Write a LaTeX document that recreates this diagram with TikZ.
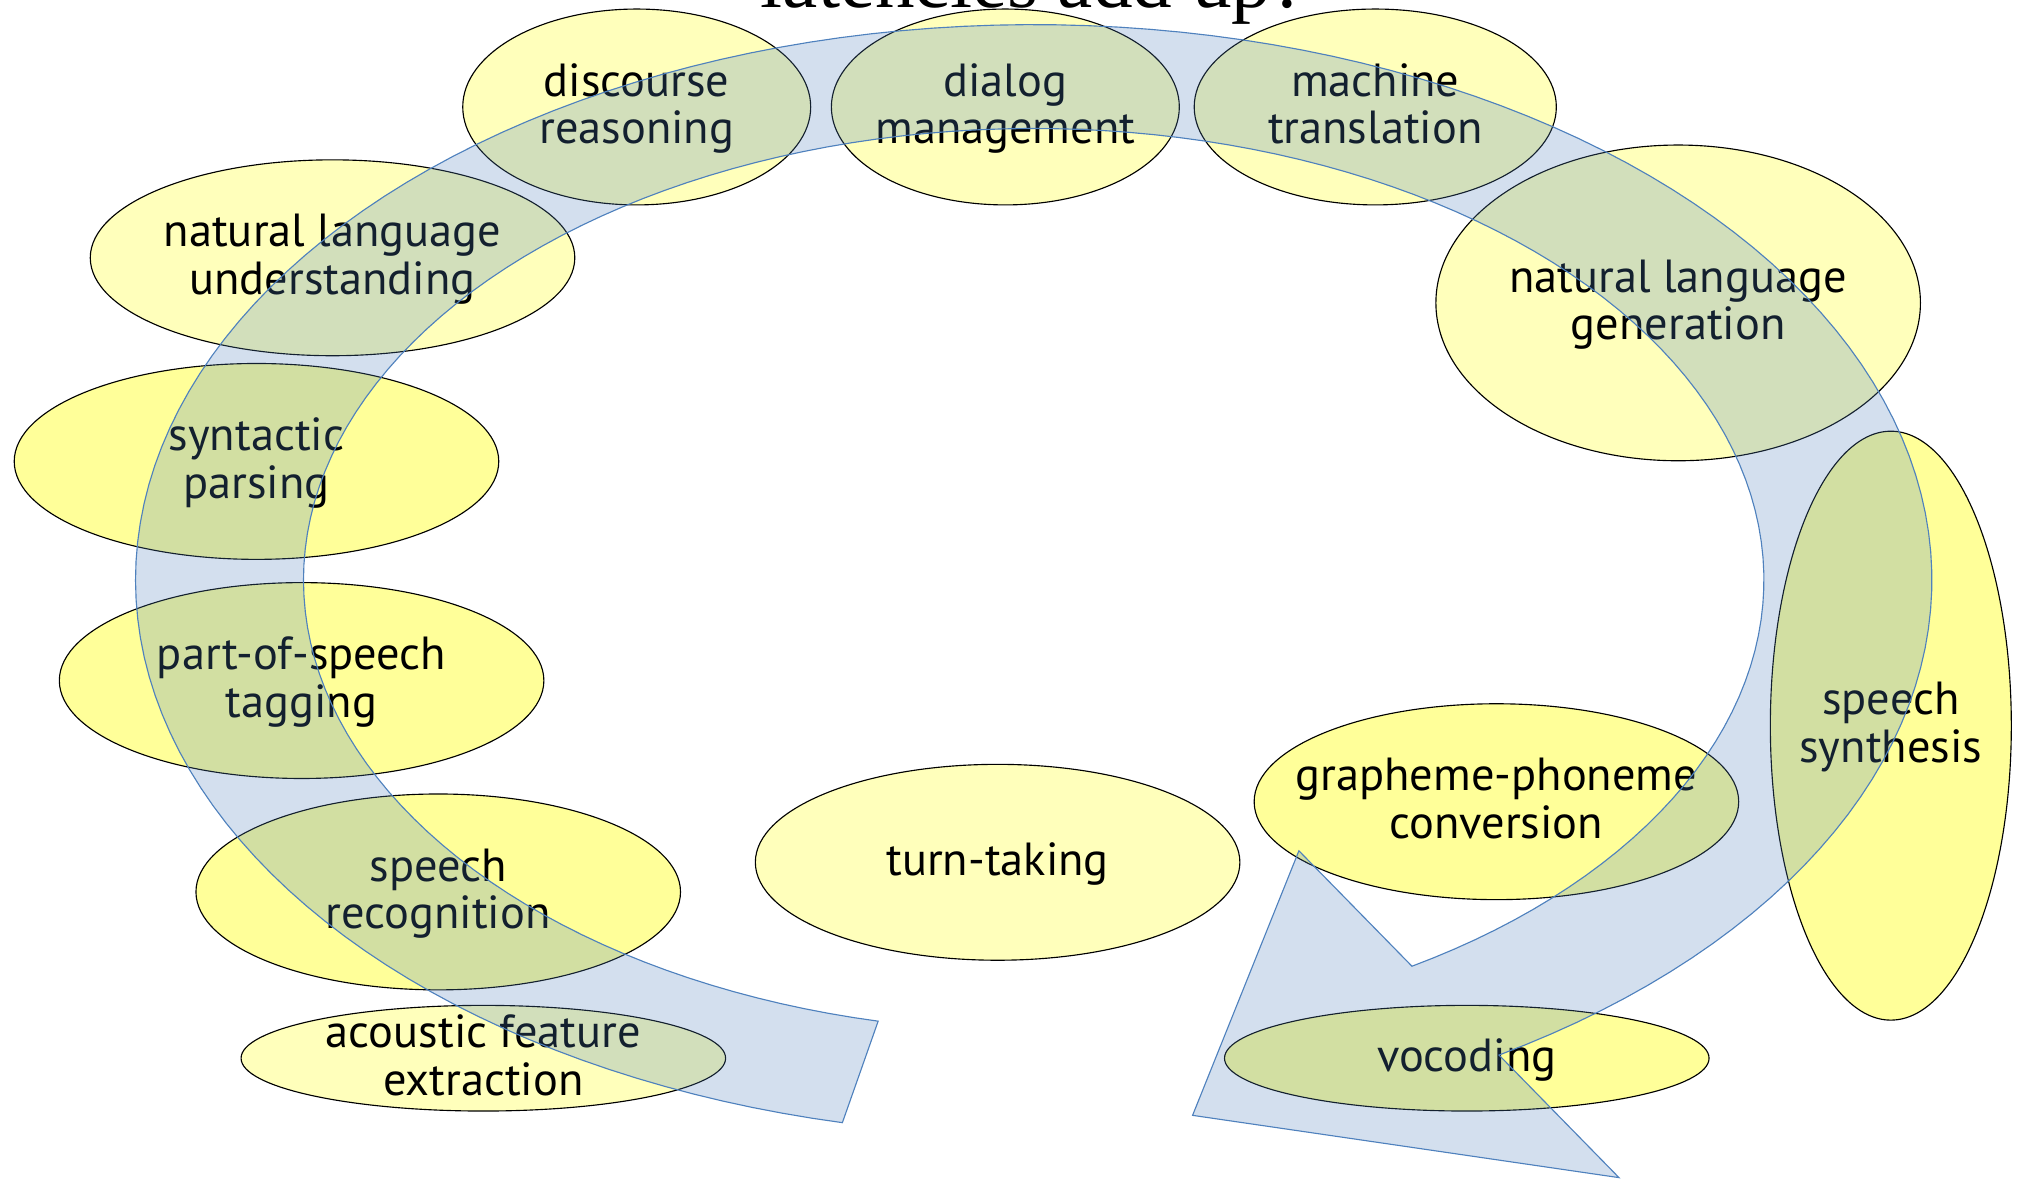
\documentclass[tikz,border=0pt]{standalone}
\usepackage{fontspec}
\setmainfont{PT Sans}
\newfontfamily\headfont{Liberation Serif}
\usetikzlibrary{shapes.geometric}
\definecolor{StageSoft}{HTML}{FFFFBB}
\definecolor{StageBright}{HTML}{FFFF99}
\definecolor{FlowBlue}{HTML}{4F81BD}

\begin{document}
\begin{tikzpicture}[
        x=0.02cm, y=-0.02cm,
        every node/.style={font=\fontsize{20.5}{21}\selectfont},
        stage/.style={ellipse, draw=black, line width=0.5pt, inner sep=0pt, minimum width=7.52cm, minimum height=3.04cm, fill=StageSoft},
        bright/.style={stage, fill=StageBright},
        topstage/.style={stage, minimum width=5.4cm},
        slim/.style={minimum height=1.64cm},
        lbl/.style={align=center, inner sep=0pt, yshift=-0.06cm, execute at begin node=\strut, execute at end node=\strut},
        flow/.style={draw=FlowBlue, line width=0.5pt, fill=FlowBlue, fill opacity=0.25}
    ]
    \useasboundingbox (0,0) rectangle (1568,916);

    % heading, mostly above the page
    \node[font=\headfont\fontsize{35}{40}\selectfont, anchor=base, inner sep=0pt] (head) at (802,5.5) {latencies add up?};

    % top row
    \node[topstage] (disc) at (494,83) {};
    \node[topstage] (dlg) at (780,83) {};
    \node[topstage, minimum width=5.62cm] (mt) at (1067,83) {};
    \node[lbl] (disc-l) at (disc) {discourse\\reasoning};
    \node[lbl] (dlg-l) at (dlg) {dialog\\management};
    \node[lbl] (mt-l) at (mt) {machine\\translation};

    % left column, understanding side
    \node[stage] (nlu) at (258,200) {};
    \node[bright] (syn) at (199,358) {};
    \node[bright] (pos) at (234,528) {};
    \node[bright] (asr) at (340,692) {};
    \node[stage, slim] (afe) at (375,821) {};
    \node[lbl] (nlu-l) at (nlu) {natural language\\understanding};
    \node[lbl] (syn-l) at (syn) {syntactic\\parsing};
    \node[lbl] (pos-l) at (pos) {part-of-speech\\tagging};
    \node[lbl] (asr-l) at (asr) {speech\\recognition};
    \node[lbl] (afe-l) at (afe) {acoustic feature\\extraction};

    % right column, generation side
    \node[stage, minimum height=4.9cm] (nlg) at (1302,235) {};
    \node[bright, minimum width=3.74cm, minimum height=9.14cm] (tts) at (1467,563) {};
    \node[bright] (g2p) at (1161,622) {};
    \node[bright, slim] (voc) at (1138,821) {};
    \node[lbl] (nlg-l) at (nlg) {natural language\\generation};
    \node[lbl] (tts-l) at (tts) {speech\\synthesis};
    \node[lbl] (g2p-l) at (g2p) {grapheme-phoneme\\conversion};
    \node[lbl] (voc-l) at (voc) {vocoding};

    % middle
    \node[stage] (turn) at (774,669) {};
    \node[lbl] (turn-l) at (turn) {turn-taking};

    % big clockwise arrow over everything
    \begin{scope}[shift={(802,450)}, x=13.94cm, y=8.62cm]
        \draw[flow] plot[domain=0:316.5, samples=160] ({257.7-\x}:1)
            -- (-58.8:1.258) -- (-79.6:0.98) -- (-58.8:0.57)
            -- plot[domain=0:316.5, samples=160] ({\x-58.8}:0.813) -- cycle;
    \end{scope}
\end{tikzpicture}
\end{document}
